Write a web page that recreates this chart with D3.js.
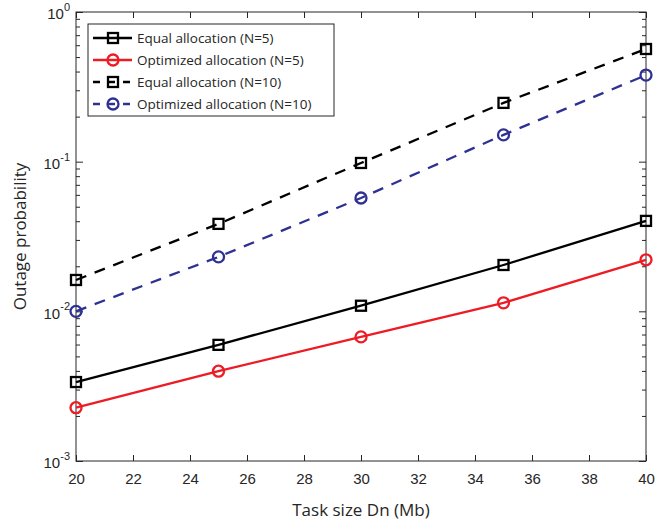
<!DOCTYPE html>
<html>
<head>
<meta charset="utf-8">
<script src="https://cdn.jsdelivr.net/npm/d3@7"></script>
<style>
  body { margin: 0; background: #fff; }
  svg { display: block; font-family: "Open Sans", "Liberation Sans", sans-serif; }
</style>
</head>
<body>
<div id="chart"></div>
<script>
// task sizes (Mb)
const taskSizes = [20, 25, 30, 35, 40];

// outage probability
const equalN5 = [0.00337, 0.00597, 0.0109, 0.0204, 0.0402];
const optimizedN5 = [0.00227, 0.00398, 0.00675, 0.0114, 0.0221];
const equalN10 = [0.0162, 0.0384, 0.098, 0.247, 0.566];
const optimizedN10 = [0.0100, 0.0231, 0.0572, 0.151, 0.379];

const xTicks = [20, 22, 24, 26, 28, 30, 32, 34, 36, 38, 40];

const series = [
    { name: 'Equal allocation (N=5)', values: equalN5, color: '#000000', dash: null, marker: 'square' },
    { name: 'Optimized allocation (N=5)', values: optimizedN5, color: '#ed1c24', dash: null, marker: 'circle' },
    { name: 'Equal allocation (N=10)', values: equalN10, color: '#000000', dash: '11,9', marker: 'square' },
    { name: 'Optimized allocation (N=10)', values: optimizedN10, color: '#2e3192', dash: '11,9', marker: 'circle' }
];

const width = 670, height = 523;
const margin = { top: 12, right: 24, bottom: 62, left: 76 };
const axisColor = '#262626';

const svg = d3.select('#chart').append('svg')
    .attr('width', width)
    .attr('height', height);

const x = d3.scaleLinear()
    .domain([20, 40])
    .range([margin.left, width - margin.right]);

const y = d3.scaleLog()
    .domain([1e-3, 1])
    .range([height - margin.bottom, margin.top]);

const isDecade = v => Math.abs(Math.log10(v) - Math.round(Math.log10(v))) < 1e-9;
const yAllTicks = y.ticks();

// Frame
svg.append('rect')
    .attr('x', x.range()[0])
    .attr('y', y.range()[1])
    .attr('width', x.range()[1] - x.range()[0])
    .attr('height', y.range()[0] - y.range()[1])
    .attr('fill', 'none')
    .attr('stroke', axisColor)
    .attr('stroke-width', 1);

// X axes (bottom with labels, top ticks only)
const xBottom = svg.append('g')
    .attr('transform', `translate(0,${y.range()[0]})`)
    .call(d3.axisBottom(x).tickValues(xTicks).tickSizeInner(-6).tickSizeOuter(0).tickPadding(12));
const xTop = svg.append('g')
    .attr('transform', `translate(0,${y.range()[1]})`)
    .call(d3.axisTop(x).tickValues(xTicks).tickSizeInner(-6).tickSizeOuter(0).tickFormat(''));

// Y axes (left with labels, right ticks only)
const yLeft = svg.append('g')
    .attr('transform', `translate(${x.range()[0]},0)`)
    .call(d3.axisLeft(y).tickValues(yAllTicks).tickSizeInner(-6).tickSizeOuter(0).tickFormat(''));
const yRight = svg.append('g')
    .attr('transform', `translate(${x.range()[1]},0)`)
    .call(d3.axisRight(y).tickValues(yAllTicks).tickSizeInner(-6).tickSizeOuter(0).tickFormat(''));

[xBottom, xTop, yLeft, yRight].forEach(g => {
    g.select('.domain').remove();
    g.selectAll('.tick line').attr('stroke', axisColor);
    g.selectAll('text').attr('fill', axisColor).style('font-size', '15px');
});

// minor ticks are shorter
yLeft.selectAll('.tick line').attr('x2', d => isDecade(d) ? 7 : 4);
yRight.selectAll('.tick line').attr('x2', d => isDecade(d) ? -7 : -4);

// Decade labels as 10 with superscript
yLeft.selectAll('.tick').each(function(d) {
    if (!isDecade(d)) return;
    const t = d3.select(this).append('text')
        .attr('x', -6)
        .attr('dy', '0.45em')
        .attr('text-anchor', 'end')
        .attr('fill', axisColor)
        .style('font-size', '15px');
    t.append('tspan').text('10');
    t.append('tspan')
        .attr('dy', '-0.75em')
        .style('font-size', '11px')
        .text(Math.round(Math.log10(d)));
});

// Axis titles
svg.append('text')
    .attr('x', (x.range()[0] + x.range()[1]) / 2)
    .attr('y', 516)
    .attr('text-anchor', 'middle')
    .attr('fill', axisColor)
    .style('font-size', '17px')
    .text('Task size Dn (Mb)');

svg.append('text')
    .attr('transform', `translate(26,${(y.range()[0] + y.range()[1]) / 2}) rotate(-90)`)
    .attr('text-anchor', 'middle')
    .attr('fill', axisColor)
    .style('font-size', '17px')
    .text('Outage probability');

// Lines and markers
const line = d3.line()
    .x((d, i) => x(taskSizes[i]))
    .y(d => y(d));

function drawMarker(g, type, cx, cy, color) {
    if (type === 'square') {
        g.append('rect')
            .attr('x', cx - 5).attr('y', cy - 5)
            .attr('width', 10).attr('height', 10)
            .attr('fill', 'none')
            .attr('stroke', color)
            .attr('stroke-width', 2.3);
    } else {
        g.append('circle')
            .attr('cx', cx).attr('cy', cy).attr('r', 5.5)
            .attr('fill', 'none')
            .attr('stroke', color)
            .attr('stroke-width', 2.3);
    }
}

series.forEach(s => {
    const g = svg.append('g');
    g.append('path')
        .datum(s.values)
        .attr('d', line)
        .attr('fill', 'none')
        .attr('stroke', s.color)
        .attr('stroke-width', 2.3)
        .attr('stroke-dasharray', s.dash);
    s.values.forEach((v, i) => drawMarker(g, s.marker, x(taskSizes[i]), y(v), s.color));
});

// Legend
const legend = svg.append('g').attr('transform', 'translate(88,24)');
legend.append('rect')
    .attr('width', 246)
    .attr('height', 92)
    .attr('fill', '#fff')
    .attr('stroke', axisColor)
    .attr('stroke-width', 1);

series.forEach((s, i) => {
    const row = legend.append('g').attr('transform', `translate(0,${14 + i * 22})`);
    row.append('line')
        .attr('x1', 5).attr('x2', 44)
        .attr('stroke', s.color)
        .attr('stroke-width', 2.3)
        .attr('stroke-dasharray', s.dash ? '7,8' : null);
    drawMarker(row, s.marker, 25, 0, s.color);
    row.append('text')
        .attr('x', 49)
        .attr('dy', '0.35em')
        .attr('fill', axisColor)
        .style('font-size', '13.5px')
        .text(s.name);
});
</script>
</body>
</html>
